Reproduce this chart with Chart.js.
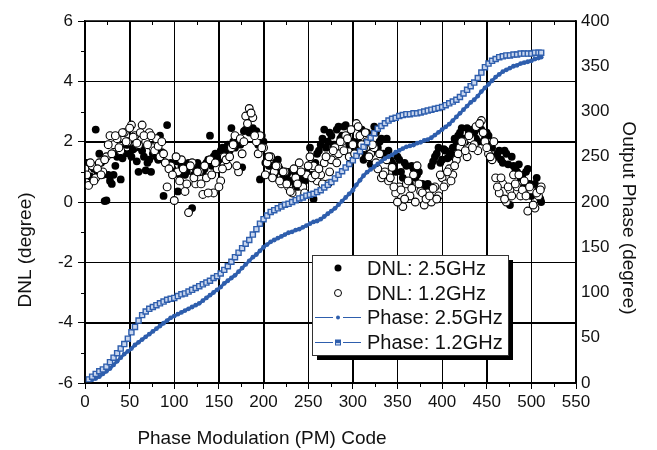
<!DOCTYPE html>
<html>
<head>
<meta charset="utf-8">
<script src="https://cdn.jsdelivr.net/npm/chart.js@4"></script>
<style>
  body { margin: 0; background: #fff; }
  canvas { display: block; }
</style>
</head>
<body>
<canvas id="chart" width="657" height="450"></canvas>
<script>
// PM codes (x), sampled every 4 codes + last code
const codes = [0,4,8,12,16,20,24,28, 32,36,40,44,48,52,56,60,
  64,68,72,76,80,84,88,92, 96,100,104,108,112,116,120,124,
  128,132,136,140,144,148,152,156, 160,164,168,172,176,180,184,188,
  192,196,200,204,208,212,216,220, 224,228,232,236,240,244,248,252,
  256,260,264,268,272,276,280,284, 288,292,296,300,304,308,312,316,
  320,324,328,332,336,340,344,348, 352,356,360,364,368,372,376,380,
  384,388,392,396,400,404,408,412, 416,420,424,428,432,436,440,444,
  448,452,456,460,464,468,472,476, 480,484,488,492,496,500,504,508,
  511];

// in-between codes for the DNL clouds
const codesB = [2,6,10,14,18,22,26,30, 34,38,42,46,50,54,58,62,
  66,70,74,78,82,86,90,94, 98,102,106,110,114,118,122,126,
  130,134,138,142,146,150,154,158, 162,166,170,174,178,182,186,190,
  194,198,202,206,210,214,218,222, 226,230,234,238,242,246,250,254,
  258,262,266,270,274,278,282,286, 290,294,298,302,306,310,314,318,
  322,326,330,334,338,342,346,350, 354,358,362,366,370,374,378,382,
  386,390,394,398,402,406,410,414, 418,422,426,430,434,438,442,446,
  450,454,458,462,466,470,474,478, 482,486,490,494,498,502,506,510];

// grid / minor tick positions
const xGrid = [50,100,150,200,250,300,350,400,450,500];
const yGrid = [-4,-2,0,2,4];
const xMinor = [25,75,125,175,225,275,325,375,425,475,525];
const yMinor = [-5,-3,-1,1,3,5];

// DNL (degree) at 2.5GHz - filled dots
const dnl25 = [0.9,1.2,0.8,2.4,1.6,0.9,0.05,0.7,
  0.9,1.5,0.75,1.6,1.9,1.5,1.8,1.0,
  1.7,1.05,1.4,1.6,1.5,2.2,0.2,2.55,
  1.3,1.0,0.35,1.2,0.9,1.3,-0.2,1.1,
  1.2,1.0,1.3,2.2,1.5,1.3,1.7,1.5,
  1.9,2.45,1.8,2.0,1.15,2.4,2.3,2.45,
  2.35,0.75,2.0,1.5,1.2,0.9,1.4,1.0,
  0.7,1.0,0.6,0.9,0.8,0.6,1.0,1.8,
  0.1,1.6,1.9,2.4,2.0,2.2,1.9,2.5,
  2.2,2.55,1.9,2.0,1.6,1.8,1.4,2.3,
  1.25,2.5,1.8,2.1,1.5,1.7,1.3,1.0,
  1.4,0.8,1.2,0.6,1.1,0.9,0.5,0.4,
  0.6,1.2,1.5,1.8,1.4,1.7,1.5,1.8,
  2.0,2.3,2.1,2.45,2.2,2.3,2.0,2.4,
  2.1,2.2,1.8,1.5,1.7,1.3,1.6,-0.1,
  1.2,1.0,0.8,0.5,1.1,0.2,0.6,0.4,
  0.0];
const dnl25b = [1.3,0.85,1.1,1.0,1.3,0.03,0.9,0.6,
  1.2,1.7,1.45,1.9,1.6,1.75,1.35,1.8,
  1.5,1.3,1.0,1.75,1.4,1.65,1.3,1.2,
  1.1,1.35,0.9,1.3,1.0,1.2,0.9,1.3,
  1.0,1.1,1.4,1.2,1.6,1.4,1.8,1.65,
  1.7,2.0,2.1,1.9,2.35,2.45,2.4,2.3,
  1.9,2.2,1.3,1.2,0.9,1.3,1.1,0.8,
  0.9,0.7,1.1,0.5,0.9,0.7,1.2,0.9,
  1.3,1.7,2.1,1.8,2.3,1.9,2.4,2.1,
  2.5,2.2,2.4,1.8,2.0,2.4,1.6,2.0,
  1.7,2.3,2.0,1.6,2.1,1.4,1.2,1.5,
  1.0,1.3,0.7,1.2,0.8,1.0,0.6,0.3,
  0.5,1.35,1.6,1.3,1.75,1.45,1.6,2.1,
  2.2,2.45,2.0,2.3,2.4,2.1,2.45,2.0,
  2.3,1.9,2.0,1.6,1.4,1.7,1.25,1.5,
  1.1,1.25,0.9,1.0,0.6,0.3,0.8,0.1];

// DNL (degree) at 1.2GHz - open dots
const dnl12 = [1.1,0.55,1.2,0.8,1.3,1.0,1.5,2.2,
  1.9,2.1,1.7,2.3,2.0,2.55,2.2,1.9,
  2.55,2.0,2.3,1.8,2.1,1.5,1.6,0.5,
  1.2,0.05,1.0,1.4,0.35,-0.35,1.3,0.6,
  1.0,0.25,0.8,1.4,0.3,1.1,0.7,1.5,
  1.2,1.8,2.2,1.0,1.6,2.85,3.1,2.8,
  2.0,2.2,1.8,1.3,1.5,1.0,1.2,0.6,
  1.0,0.5,0.3,0.8,1.3,0.5,0.9,1.5,
  1.2,0.7,0.9,1.3,0.6,1.4,1.8,1.6,
  2.0,2.2,1.5,1.9,2.6,2.2,1.8,2.0,
  1.6,1.8,1.1,0.8,1.0,0.7,1.15,0.3,
  0.5,-0.15,0.6,0.2,0.9,1.2,0.35,-0.1,
  0.3,0.0,0.5,0.2,0.8,0.6,1.1,0.9,
  1.4,1.8,2.0,1.5,2.1,1.9,1.7,2.7,
  2.0,1.6,1.4,0.8,0.3,0.6,0.0,0.4,
  0.9,0.5,0.2,0.7,-0.3,0.4,-0.2,0.2,
  0.5];
const dnl12b = [0.9,1.3,0.7,1.1,0.9,1.4,1.9,1.6,
  2.2,1.8,2.3,2.0,2.45,2.15,1.95,2.3,
  2.2,1.9,2.2,1.7,1.85,2.0,1.3,1.1,
  0.9,1.5,0.7,1.1,0.6,1.2,0.8,1.0,
  0.6,1.2,0.3,0.9,1.3,0.5,1.1,1.4,
  1.5,1.9,1.2,2.1,2.0,2.6,2.95,2.2,
  1.6,1.8,0.9,1.5,0.8,1.2,0.7,1.0,
  0.6,0.35,1.1,0.6,1.0,0.3,1.2,0.8,
  0.9,1.1,0.6,1.5,1.0,1.7,1.3,2.0,
  1.7,2.1,2.4,1.6,2.5,1.9,2.3,1.5,
  1.9,1.3,1.6,0.9,1.4,0.8,0.5,0.0,
  0.4,0.1,0.7,0.45,0.0,0.6,0.3,0.1,
  0.2,0.45,0.1,0.9,0.5,1.0,0.7,1.2,
  1.6,2.0,1.7,2.2,1.8,2.5,2.6,2.3,
  1.8,1.5,2.0,0.5,0.8,0.1,0.5,0.2,
  0.6,0.9,0.4,0.2,0.5,-0.1,0.3,0.4];

// output phase (degree)
const phase25 = [0,2,3.5,5,7,10,13,16,
  20,24,28,32,35,38,42,45,
  48,51,54,57,60,63,66,69,
  72,74,76,78,80,82,84,86,
  88,91,94,97,100,103,106,110,
  113,116,119,123,127,131,135,139,
  142,146,150,153,156,158,160,162,
  164,166,167,169,170,172,174,176,
  178,179,181,184,187,190,193,197,
  201,205,209,213,219,224,229,233,
  236,239,242,245,248,250,252,255,
  257,259,261,262,263,265,266,268,
  269,271,274,277,280,283,286,290,
  294,298,302,306,310,313,317,322,
  326,330,334,338,341,344,346,348,
  350,351,353,354,355,356,358,359,
  360];

const phase12 = [0,4,7,10,13,15,18,23,
  28,33,38,43,49,56,62,69,
  75,79,82,84,86,88,90,92,
  93,94,96,98,99,101,103,105,
  107,109,111,113,116,118,121,125,
  129,134,139,144,149,154,158,164,
  170,176,181,185,189,191,193,195,
  197,198,200,202,204,205,207,208,
  209,211,213,216,219,222,226,230,
  234,238,242,246,251,256,261,266,
  271,276,281,284,287,290,292,293,
  295,296,297,297,298,298,299,300,
  301,302,303,304,305,307,309,311,
  313,316,320,324,328,332,337,343,
  349,353,356,358,360,361,362,362,
  363,363,364,364,364,364,365,365,
  365];

const BLUE = '#2e5ead';
const FONT = '"Liberation Sans", Arial, sans-serif';

function pts(xs, ys) {
  return xs.map((c, i) => ({ x: c, y: ys[i] }));
}

// plot-area grid, painted before any data set
const gridPlugin = {
  id: 'gridPlugin',
  beforeDatasetsDraw(chart) {
    const ctx = chart.ctx;
    const a = chart.chartArea;
    const sx = chart.scales.x;
    const sy = chart.scales.y;
    ctx.save();
    ctx.strokeStyle = '#000';
    ctx.lineWidth = 1;
    xGrid.forEach(v => {
      const px = Math.round(sx.getPixelForValue(v)) + 0.5;
      ctx.beginPath();
      ctx.moveTo(px, a.top);
      ctx.lineTo(px, a.bottom);
      ctx.stroke();
    });
    yGrid.forEach(v => {
      const py = Math.round(sy.getPixelForValue(v)) + 0.5;
      ctx.beginPath();
      ctx.moveTo(a.left, py);
      ctx.lineTo(a.right, py);
      ctx.stroke();
    });
    ctx.restore();
  }
};

const extras = {
  id: 'extras',
  afterDraw(chart) {
    const ctx = chart.ctx;
    const a = chart.chartArea;
    const sx = chart.scales.x;
    const sy = chart.scales.y;
    ctx.save();

    // frame
    ctx.strokeStyle = '#000';
    ctx.lineWidth = 1.5;
    ctx.strokeRect(a.left, a.top, a.right - a.left, a.bottom - a.top);

    // minor ticks
    ctx.lineWidth = 1;
    ctx.beginPath();
    xMinor.forEach(v => {
      const px = Math.round(sx.getPixelForValue(v)) + 0.5;
      ctx.moveTo(px, a.bottom); ctx.lineTo(px, a.bottom + 4);
      ctx.moveTo(px, a.top); ctx.lineTo(px, a.top + 4);
    });
    yMinor.forEach(v => {
      const py = Math.round(sy.getPixelForValue(v)) + 0.5;
      ctx.moveTo(a.left - 4, py); ctx.lineTo(a.left, py);
    });
    ctx.stroke();

    // axis titles
    ctx.fillStyle = '#111';
    ctx.font = '19px ' + FONT;
    ctx.textAlign = 'center';
    ctx.textBaseline = 'middle';
    ctx.fillText('Phase Modulation (PM) Code', 262, 439);
    ctx.save();
    ctx.translate(26, 250);
    ctx.rotate(-Math.PI / 2);
    ctx.fillText('DNL (degree)', 0, 0);
    ctx.restore();
    ctx.save();
    ctx.translate(628, 218);
    ctx.rotate(Math.PI / 2);
    ctx.fillText('Output Phase (degree)', 0, 0);
    ctx.restore();

    // legend
    const lx = 312, ly = 255, lw = 196, lh = 100;
    ctx.fillStyle = '#000';
    ctx.fillRect(lx + 5, ly + 5, lw, lh);
    ctx.fillStyle = '#fff';
    ctx.fillRect(lx, ly, lw, lh);
    ctx.strokeStyle = '#333';
    ctx.lineWidth = 1;
    ctx.strokeRect(lx + 0.5, ly + 0.5, lw, lh);

    const rows = [268, 293, 317, 342];
    const mx = 338;
    ctx.fillStyle = '#000';
    ctx.beginPath(); ctx.arc(mx, rows[0], 3.5, 0, Math.PI * 2); ctx.fill();
    ctx.fillStyle = '#fff'; ctx.strokeStyle = '#000';
    ctx.beginPath(); ctx.arc(mx, rows[1], 3.5, 0, Math.PI * 2); ctx.fill(); ctx.stroke();
    ctx.strokeStyle = BLUE; ctx.lineWidth = 1.2;
    [rows[2], rows[3]].forEach(y => {
      ctx.beginPath();
      ctx.moveTo(315, y + 0.5); ctx.lineTo(333, y + 0.5);
      ctx.moveTo(343, y + 0.5); ctx.lineTo(361, y + 0.5);
      ctx.stroke();
    });
    ctx.fillStyle = BLUE;
    ctx.beginPath(); ctx.arc(mx, rows[2] + 0.5, 2, 0, Math.PI * 2); ctx.fill();
    ctx.fillRect(mx - 3, rows[3] - 2.5, 6, 6);
    ctx.fillStyle = '#c9d6ee';
    ctx.fillRect(mx - 2, rows[3] + 1, 4, 1.5);

    ctx.fillStyle = '#111';
    ctx.font = '20px ' + FONT;
    ctx.textAlign = 'left';
    ctx.fillText('DNL: 2.5GHz', 367, rows[0] + 1);
    ctx.fillText('DNL: 1.2GHz', 367, rows[1] + 1);
    ctx.fillText('Phase: 2.5GHz', 367, rows[2] + 1);
    ctx.fillText('Phase: 1.2GHz', 367, rows[3] + 1);
    ctx.restore();
  }
};

new Chart(document.getElementById('chart'), {
  type: 'scatter',
  data: {
    datasets: [
      {
        label: 'Phase: 1.2GHz',
        data: pts(codes, phase12),
        yAxisID: 'y2',
        showLine: true,
        borderColor: BLUE,
        borderWidth: 1.2,
        pointStyle: 'rect',
        pointRadius: 3.6,
        pointBackgroundColor: '#c9d6ee',
        pointBorderColor: BLUE,
        pointBorderWidth: 1.4,
        order: 0
      },
      {
        label: 'Phase: 2.5GHz',
        data: pts(codes, phase25),
        yAxisID: 'y2',
        showLine: true,
        borderColor: BLUE,
        borderWidth: 3,
        pointRadius: 2.4,
        pointBackgroundColor: BLUE,
        pointBorderColor: BLUE,
        pointBorderWidth: 0,
        order: 1
      },
      {
        label: 'DNL: 1.2GHz',
        data: pts(codes, dnl12).concat(pts(codesB, dnl12b)),
        yAxisID: 'y',
        pointRadius: 3.9,
        pointBackgroundColor: '#fff',
        pointBorderColor: '#000',
        pointBorderWidth: 1.1,
        order: 2
      },
      {
        label: 'DNL: 2.5GHz',
        data: pts(codes, dnl25).concat(pts(codesB, dnl25b)),
        yAxisID: 'y',
        pointRadius: 3.9,
        pointBackgroundColor: '#000',
        pointBorderColor: '#000',
        pointBorderWidth: 0,
        order: 3
      }
    ]
  },
  options: {
    responsive: false,
    animation: false,
    layout: { padding: { top: 21, left: 0, right: 0, bottom: 0 } },
    plugins: { legend: { display: false }, tooltip: { enabled: false } },
    scales: {
      x: {
        type: 'linear',
        min: 0,
        max: 550,
        afterFit(s) { s.height = 67; },
        ticks: { stepSize: 50, color: '#111', font: { family: FONT, size: 17 }, padding: 3, maxRotation: 0 },
        grid: { color: '#000', lineWidth: 1, tickLength: 6 },
        border: { display: true, color: '#000', width: 1.5 }
      },
      y: {
        position: 'left',
        min: -6,
        max: 6,
        afterFit(s) { s.width = 85; },
        ticks: { stepSize: 2, color: '#111', font: { family: FONT, size: 17 }, padding: 5 },
        grid: { color: '#000', lineWidth: 1, tickLength: 7 },
        border: { display: true, color: '#000', width: 1.5 }
      },
      y2: {
        position: 'right',
        min: 0,
        max: 400,
        afterFit(s) { s.width = 81; },
        ticks: { stepSize: 50, color: '#111', font: { family: FONT, size: 17 }, padding: 5 },
        grid: { drawOnChartArea: false, drawTicks: false },
        border: { display: true, color: '#000', width: 1.5 }
      }
    }
  },
  plugins: [gridPlugin, extras]
});
</script>
</body>
</html>
